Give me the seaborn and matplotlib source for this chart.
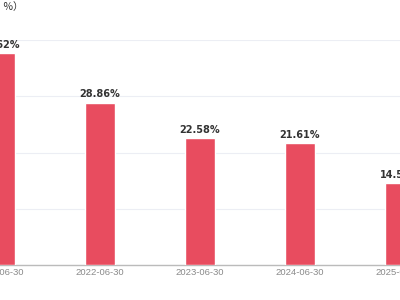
import matplotlib
matplotlib.use("Agg")
import matplotlib.pyplot as plt
import seaborn as sns
import pandas as pd

dates = ["2021-06-30", "2022-06-30", "2023-06-30", "2024-06-30", "2025-06-30"]
values = [37.62, 28.86, 22.58, 21.61, 14.52]
unit_label = "（单位：%）"

sns.set_theme(style="white")
plt.rcParams['font.family'] = ['Liberation Sans', 'Noto Sans CJK SC', 'DejaVu Sans']

df = pd.DataFrame({"date": dates, "value": values})

fig = plt.figure(figsize=(4, 3), dpi=100)
ax = fig.add_axes([0.0, 35 / 300, 1.0, 225 / 300])
sns.barplot(data=df, x="date", y="value", color="#E84C5F", width=0.3,
            saturation=1, ax=ax, zorder=3)
ax.set_xlim(0, 4)
ax.set_ylim(0, 40)
ax.set_yticks([0, 10, 20, 30, 40])
ax.set_yticklabels([])
ax.tick_params(axis="y", length=0)
ax.tick_params(axis="x", length=0, colors="#8A8A8A", labelsize=6.8, pad=2.5)
ax.grid(axis="y", color="#ECEEF4", linewidth=0.8, zorder=0)
for s in ["top", "right", "left"]:
    ax.spines[s].set_visible(False)
ax.spines["bottom"].set_color("#BBBBBB")
ax.spines["bottom"].set_linewidth(1)
ax.set_xlabel("")
ax.set_ylabel("")

for i, v in enumerate(values):
    ax.text(i, v + 0.6, f"{v:.2f}%", ha="center", va="bottom",
            fontsize=7, fontweight="bold", color="#333333",
            family=['DejaVu Sans'])

fig.text(24 / 400, 1 - 7 / 300, unit_label, ha="right", va="center",
         fontsize=7.5, color="#333333",
         family=['Noto Sans CJK SC', 'DejaVu Sans'])

fig.savefig("out.png", dpi=100)
